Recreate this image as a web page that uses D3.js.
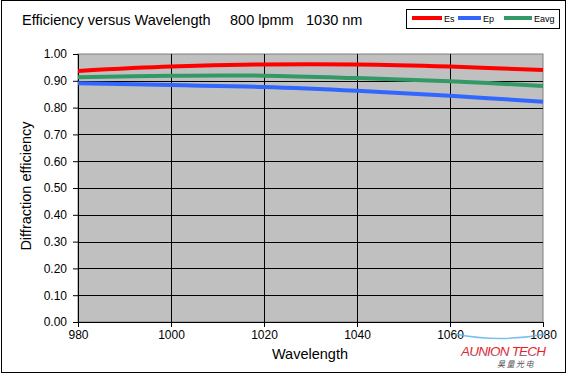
<!DOCTYPE html>
<html>
<head>
<meta charset="utf-8">
<script src="https://cdn.jsdelivr.net/npm/d3@7"></script>
<style>
  body { margin: 0; background: #fff; }
  svg { display: block; font-family: "Liberation Sans", Arial, sans-serif; }
</style>
</head>
<body>
<div id="chart"></div>
<script>
const wavelengths = [980, 1000, 1020, 1040, 1060, 1080];
const es = [0.937, 0.953, 0.961, 0.961, 0.953, 0.940];
const ep = [0.891, 0.884, 0.877, 0.863, 0.844, 0.822];
const eavg = [0.913, 0.919, 0.919, 0.910, 0.898, 0.881];
const yTicks = [0, 0.1, 0.2, 0.3, 0.4, 0.5, 0.6, 0.7, 0.8, 0.9, 1.0];
const xTicks = [980, 1000, 1020, 1040, 1060, 1080];
const titleParts = ["Efficiency versus Wavelength", "800 lpmm", "1030 nm"];

const series = [
  { name: "Es", values: es, color: "#ff0000" },
  { name: "Ep", values: ep, color: "#3366ff" },
  { name: "Eavg", values: eavg, color: "#339966" },
];

const width = 569, height = 376;
const padding = { t: 54, b: 54, s: 78, e: 26 };

const svg = d3.select("#chart").append("svg").attr("width", width).attr("height", height);

// outer frame
svg.append("rect").attr("x", 1.5).attr("y", 0.5).attr("width", 564).attr("height", 372)
  .attr("fill", "#fff").attr("stroke", "#000").attr("stroke-width", 1);

const xScale = d3.scaleLinear().domain([980, 1080]).range([padding.s, width - padding.e]);
const yScale = d3.scaleLinear().domain([0, 1]).range([height - padding.b, padding.t]);

// plot area
svg.append("rect")
  .attr("x", xScale(980)).attr("y", yScale(1))
  .attr("width", xScale(1080) - xScale(980)).attr("height", yScale(0) - yScale(1))
  .attr("fill", "#c0c0c0").attr("stroke", "#808080");

// grid
svg.append("g").selectAll("line").data(yTicks.slice(1, -1)).enter().append("line")
  .attr("x1", xScale(980)).attr("x2", xScale(1080))
  .attr("y1", (d) => Math.round(yScale(d)) + 0.5).attr("y2", (d) => Math.round(yScale(d)) + 0.5)
  .attr("stroke", "#000");
svg.append("g").selectAll("line").data(xTicks.slice(1, -1)).enter().append("line")
  .attr("y1", yScale(1)).attr("y2", yScale(0))
  .attr("x1", (d) => Math.round(xScale(d)) + 0.5).attr("x2", (d) => Math.round(xScale(d)) + 0.5)
  .attr("stroke", "#000");

// axes
const xAxis = svg.append("g").attr("transform", `translate(0, ${yScale(0)})`)
  .call(d3.axisBottom(xScale).tickValues(xTicks).tickFormat(d3.format("d")).tickSizeOuter(0).tickSize(5).tickPadding(3));
const yAxis = svg.append("g").attr("transform", `translate(${xScale(980)}, 0)`)
  .call(d3.axisLeft(yScale).tickValues(yTicks).tickFormat(d3.format(".2f")).tickSizeOuter(0).tickSize(5).tickPadding(6));
[xAxis, yAxis].forEach((a) => {
  a.selectAll("text").attr("font-size", 12).attr("fill", "#000").attr("font-family", "Liberation Sans, Arial, sans-serif");
  a.selectAll("line, path").attr("stroke", "#000");
});

// lines
const line = d3.line()
  .x((d, i) => xScale(wavelengths[i]))
  .y((d) => yScale(d))
  .curve(d3.curveCardinal.tension(0));
svg.append("g").selectAll("path").data(series).enter().append("path")
  .attr("d", (d) => line(d.values))
  .attr("fill", "none").attr("stroke", (d) => d.color).attr("stroke-width", 4);

// title
const titleX = [22, 230, 306];
svg.append("g").selectAll("text").data(titleParts).enter().append("text")
  .attr("x", (d, i) => titleX[i]).attr("y", 25).attr("font-size", 14.5).attr("fill", "#000")
  .text((d) => d);

// legend
const legend = svg.append("g");
legend.append("rect").attr("x", 406.5).attr("y", 9.5).attr("width", 153).attr("height", 19)
  .attr("fill", "#fff").attr("stroke", "#000");
const legendPos = [{ x: 412, w: 30 }, { x: 458, w: 23 }, { x: 504, w: 28 }];
series.forEach((s, i) => {
  const p = legendPos[i];
  legend.append("line").attr("x1", p.x).attr("x2", p.x + p.w).attr("y1", 18).attr("y2", 18)
    .attr("stroke", s.color).attr("stroke-width", 4);
  legend.append("text").attr("x", p.x + p.w + 2).attr("y", 21.5).attr("font-size", 9).text(s.name);
});

// axis titles
svg.append("text").attr("x", 310).attr("y", 359).attr("text-anchor", "middle").attr("font-size", 14.5)
  .text("Wavelength");
svg.append("text").attr("transform", `translate(31, ${yScale(0.5) - 2}) rotate(-90)`)
  .attr("text-anchor", "middle").attr("font-size", 14.5).text("Diffraction  efficiency");

// watermark
const defs = svg.append("defs");
const grad = defs.append("linearGradient").attr("id", "wm").attr("x1", 0).attr("y1", 0).attr("x2", 0).attr("y2", 1);
grad.append("stop").attr("offset", "0%").attr("stop-color", "#e8202a");
grad.append("stop").attr("offset", "55%").attr("stop-color", "#e8202a");
grad.append("stop").attr("offset", "100%").attr("stop-color", "#4aa8e8");
svg.append("path").attr("d", "M455,334 Q500,343 546,334").attr("fill", "none")
  .attr("stroke", "#5ab0e8").attr("stroke-width", 1.5).attr("opacity", 0.8);
svg.append("text").attr("x", 461).attr("y", 356).attr("font-size", 13.5).attr("font-style", "italic")
  .attr("fill", "url(#wm)").attr("textLength", 85).text("AUNION TECH");
svg.append("text").attr("x", 497).attr("y", 367).attr("font-size", 8).attr("font-style", "italic")
  .attr("font-family", "Noto Sans CJK SC").attr("fill", "#555").attr("letter-spacing", 1.5).text("昊量光电");
</script>
</body>
</html>
